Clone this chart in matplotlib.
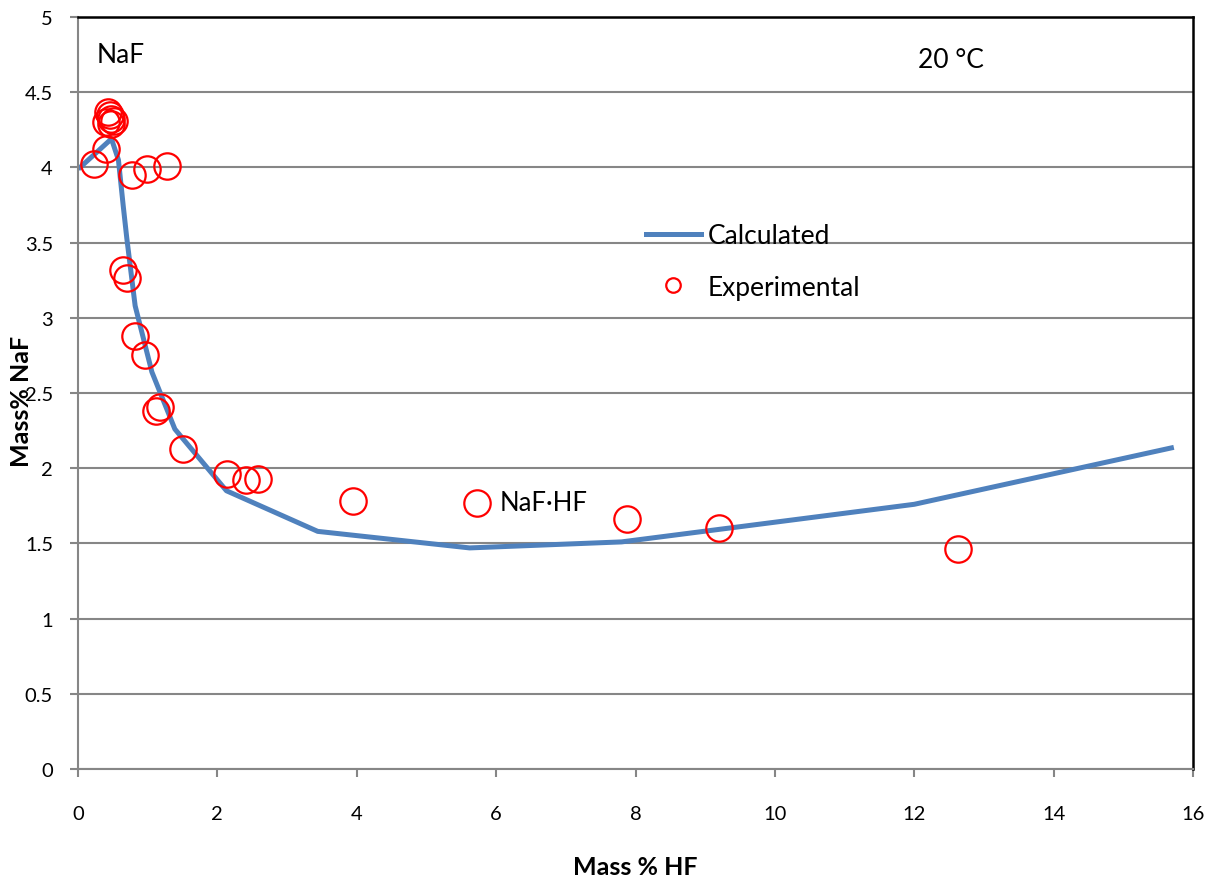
import matplotlib
matplotlib.use("Agg")
import matplotlib.pyplot as plt

# Calculated curve
calc_hf = [0.03, 0.48, 0.58, 0.65, 0.70, 0.82, 1.06, 1.39, 2.13, 3.44, 5.62, 7.80, 12.0, 15.69]
calc_naf = [4.00, 4.19, 4.05, 3.74, 3.53, 3.08, 2.64, 2.26, 1.85, 1.58, 1.47, 1.51, 1.76, 2.135]

# Experimental points
exp_hf = [0.43, 0.46, 0.48, 0.40, 0.52, 0.47, 0.23, 0.40, 0.78, 0.99, 1.28,
          0.64, 0.71, 0.82, 0.96, 1.17, 1.12, 1.51, 2.14, 2.41, 2.59,
          3.95, 5.72, 7.88, 9.20, 12.63]
exp_naf = [4.37, 4.35, 4.32, 4.30, 4.31, 4.29, 4.02, 4.12, 3.95, 3.99, 4.01,
           3.315, 3.265, 2.88, 2.75, 2.41, 2.38, 2.13, 1.96, 1.92, 1.93,
           1.78, 1.77, 1.66, 1.60, 1.46]

x_ticks = [0, 2, 4, 6, 8, 10, 12, 14, 16]
y_ticks = [0, 0.5, 1, 1.5, 2, 2.5, 3, 3.5, 4, 4.5, 5]
y_ticklabels = ["0", "0.5", "1", "1.5", "2", "2.5", "3", "3.5", "4", "4.5", "5"]

plt.rcParams['font.family'] = ['Lato', 'DejaVu Sans']

fig = plt.figure(figsize=(12.1, 8.79), dpi=100)
ax = fig.add_axes([78/1210, 1 - 770/879, (1193 - 78)/1210, (770 - 18)/879])

grid_col = '#868686'
ax.set_xlim(0, 16)
ax.set_ylim(0, 5)
ax.set_yticks(y_ticks)
ax.set_yticklabels(y_ticklabels)
ax.set_xticks(x_ticks)
ax.set_axisbelow(True)
ax.yaxis.grid(True, color=grid_col, linewidth=1.5)

for s in ['left', 'bottom']:
    ax.spines[s].set_color(grid_col)
    ax.spines[s].set_linewidth(1.5)
for s in ['top', 'right']:
    ax.spines[s].set_color('black')
    ax.spines[s].set_linewidth(1.8)

ax.tick_params(axis='both', direction='out', length=6, width=1.5, color=grid_col,
               labelsize=14.5, labelcolor='black')
ax.tick_params(axis='x', pad=20)
ax.tick_params(axis='y', pad=12)

line, = ax.plot(calc_hf, calc_naf, color='#4F81BD', linewidth=3.6, label='Calculated',
                solid_joinstyle='round', zorder=2)
pts, = ax.plot(exp_hf, exp_naf, linestyle='none', marker='o', markersize=19,
               markerfacecolor='none', markeredgecolor='#FF0000', markeredgewidth=1.6,
               label='Experimental', zorder=3)

ax.set_xlabel('Mass % HF', fontsize=18, fontweight='bold')
ax.xaxis.set_label_coords(0.5, -0.1144)
ax.set_ylabel('Mass% NaF', fontsize=18, fontweight='bold')
ax.yaxis.set_label_coords(-0.040, 0.49)

ax.text(0.27, 4.75, 'NaF', fontsize=19, ha='left', va='center')
ax.text(12.05, 4.72, '20 °C', fontsize=19, ha='left', va='center')
ax.text(6.05, 1.77, 'NaF·HF', fontsize=18.5, ha='left', va='center')

ax.legend(handles=[line, pts], loc='center left', bbox_to_anchor=(0.509, 0.675),
          frameon=False, fontsize=19, handlelength=2.1, handletextpad=0.25,
          labelspacing=1.0, markerscale=0.55, borderpad=0, borderaxespad=0)

fig.savefig('out.png', dpi=100)
